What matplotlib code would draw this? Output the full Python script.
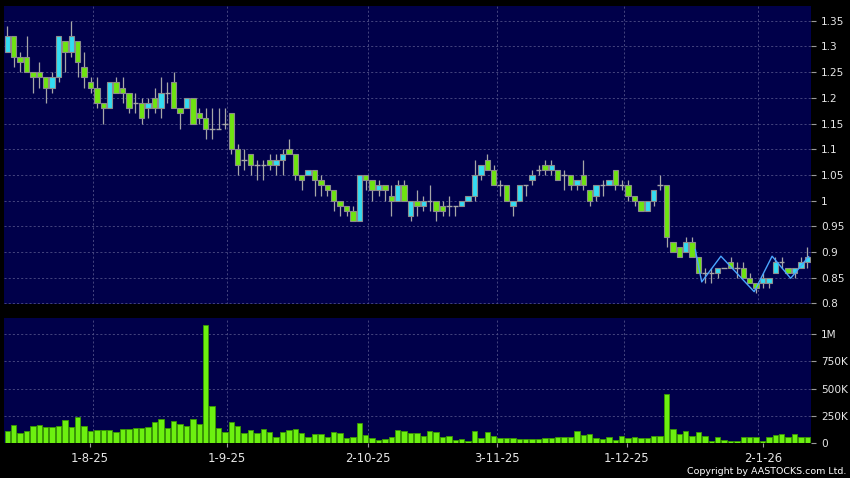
import matplotlib
matplotlib.use("Agg")
import matplotlib.pyplot as plt
import numpy as np

# ---------------- data ----------------
opens = [1.29, 1.32, 1.28, 1.28, 1.25, 1.25, 1.24, 1.22, 1.24, 1.31,
         1.29, 1.31, 1.26, 1.23, 1.22, 1.19, 1.18, 1.23, 1.22, 1.21,
         1.19, 1.19, 1.18, 1.20, 1.18, 1.21, 1.23, 1.18, 1.18, 1.20,
         1.17, 1.16, 1.14, 1.14, 1.15, 1.17, 1.10, 1.08, 1.09, 1.07,
         1.07, 1.08, 1.07, 1.08, 1.10, 1.09, 1.05, 1.05, 1.06, 1.04,
         1.03, 1.02, 1.00, 0.99, 0.98, 0.96, 1.05, 1.04, 1.02, 1.03,
         1.01, 1.00, 1.03, 0.97, 1.00, 0.99, 1.00, 1.00, 0.99, 0.99,
         0.99, 0.99, 1.00, 1.01, 1.05, 1.08, 1.06, 1.03, 1.03, 0.99,
         1.00, 1.03, 1.04, 1.06, 1.07, 1.06, 1.06, 1.05, 1.05, 1.03,
         1.05, 1.02, 1.01, 1.03, 1.03, 1.06, 1.03, 1.03, 1.01, 1.00,
         0.98, 1.00, 1.03, 1.03, 0.92, 0.91, 0.90, 0.92, 0.89, 0.86,
         0.86, 0.86, 0.87, 0.88, 0.87, 0.87, 0.85, 0.84, 0.84, 0.84,
         0.86, 0.88, 0.87, 0.86, 0.87, 0.88]
closes = [1.32, 1.28, 1.27, 1.25, 1.24, 1.24, 1.22, 1.24, 1.32, 1.29,
          1.32, 1.27, 1.24, 1.22, 1.19, 1.18, 1.23, 1.21, 1.21, 1.18,
          1.19, 1.16, 1.19, 1.18, 1.21, 1.21, 1.18, 1.17, 1.20, 1.15,
          1.16, 1.14, 1.14, 1.14, 1.15, 1.10, 1.07, 1.08, 1.07, 1.07,
          1.07, 1.07, 1.08, 1.09, 1.09, 1.05, 1.04, 1.06, 1.04, 1.03,
          1.02, 1.00, 0.99, 0.98, 0.96, 1.05, 1.04, 1.02, 1.03, 1.02,
          1.00, 1.03, 1.00, 1.00, 0.99, 1.00, 1.00, 0.98, 0.98, 0.99,
          0.99, 1.00, 1.01, 1.05, 1.07, 1.06, 1.03, 1.03, 1.00, 1.00,
          1.03, 1.03, 1.05, 1.06, 1.06, 1.07, 1.04, 1.05, 1.03, 1.04,
          1.03, 1.00, 1.03, 1.03, 1.04, 1.03, 1.03, 1.01, 1.00, 0.98,
          1.00, 1.02, 1.03, 0.93, 0.90, 0.89, 0.92, 0.89, 0.86, 0.86,
          0.86, 0.87, 0.87, 0.87, 0.87, 0.85, 0.84, 0.83, 0.85, 0.85,
          0.88, 0.88, 0.86, 0.87, 0.88, 0.89]
highs = [1.34, 1.32, 1.29, 1.32, 1.25, 1.27, 1.24, 1.25, 1.32, 1.31,
         1.35, 1.31, 1.29, 1.24, 1.24, 1.19, 1.23, 1.24, 1.24, 1.21,
         1.21, 1.20, 1.20, 1.22, 1.24, 1.23, 1.25, 1.18, 1.20, 1.20,
         1.18, 1.18, 1.18, 1.18, 1.18, 1.17, 1.11, 1.10, 1.09, 1.08,
         1.08, 1.09, 1.09, 1.10, 1.12, 1.09, 1.05, 1.06, 1.06, 1.05,
         1.03, 1.02, 1.00, 0.99, 0.99, 1.05, 1.05, 1.04, 1.04, 1.03,
         1.03, 1.04, 1.04, 1.00, 1.02, 1.01, 1.03, 1.00, 1.00, 1.01,
         0.99, 1.00, 1.01, 1.08, 1.07, 1.09, 1.07, 1.04, 1.03, 1.00,
         1.03, 1.03, 1.06, 1.07, 1.08, 1.08, 1.06, 1.06, 1.05, 1.04,
         1.08, 1.02, 1.03, 1.04, 1.04, 1.06, 1.04, 1.04, 1.01, 1.00,
         1.00, 1.02, 1.05, 1.03, 0.92, 0.91, 0.93, 0.93, 0.89, 0.87,
         0.87, 0.87, 0.87, 0.89, 0.88, 0.88, 0.86, 0.84, 0.86, 0.85,
         0.89, 0.89, 0.87, 0.87, 0.89, 0.91]
lows = [1.29, 1.26, 1.25, 1.25, 1.21, 1.22, 1.19, 1.21, 1.23, 1.25,
        1.28, 1.24, 1.22, 1.21, 1.18, 1.15, 1.18, 1.21, 1.19, 1.17,
        1.17, 1.15, 1.16, 1.17, 1.16, 1.19, 1.18, 1.14, 1.18, 1.15,
        1.15, 1.12, 1.12, 1.14, 1.14, 1.09, 1.05, 1.06, 1.05, 1.04,
        1.04, 1.06, 1.05, 1.05, 1.09, 1.04, 1.02, 1.05, 1.01, 1.01,
        1.01, 0.98, 0.97, 0.97, 0.96, 0.96, 1.02, 1.00, 1.01, 1.00,
        0.97, 1.00, 1.00, 0.96, 0.97, 0.98, 0.98, 0.96, 0.97, 0.97,
        0.97, 0.99, 1.00, 1.00, 1.04, 1.06, 1.03, 1.01, 1.00, 0.97,
        1.00, 1.01, 1.03, 1.05, 1.05, 1.05, 1.04, 1.02, 1.02, 1.02,
        1.02, 0.99, 1.00, 1.01, 1.03, 1.02, 1.02, 1.00, 0.99, 0.98,
        0.98, 0.99, 1.02, 0.91, 0.90, 0.89, 0.90, 0.89, 0.86, 0.84,
        0.84, 0.85, 0.87, 0.87, 0.85, 0.85, 0.84, 0.82, 0.83, 0.83,
        0.86, 0.87, 0.86, 0.85, 0.87, 0.87]
volumes_k = [113, 168, 98, 113, 159, 168, 152, 146, 162, 210,
             152, 238, 159, 113, 119, 122, 122, 107, 128, 128,
             137, 137, 152, 195, 223, 143, 207, 174, 159, 223,
             174, 1082, 341, 143, 104, 198, 159, 91, 119, 91,
             131, 101, 58, 107, 122, 128, 95, 58, 85, 85,
             58, 104, 95, 49, 61, 186, 76, 52, 30, 40,
             61, 119, 113, 98, 91, 70, 113, 107, 55, 70,
             30, 40, 21, 113, 49, 104, 67, 49, 52, 52,
             43, 40, 40, 37, 52, 49, 61, 61, 58, 116,
             79, 88, 49, 40, 55, 30, 70, 49, 58, 52,
             52, 64, 70, 448, 131, 85, 113, 70, 107, 67,
             24, 58, 30, 21, 21, 56, 56, 62, 19, 56,
             78, 84, 62, 81, 56, 62]

# thin light-blue swing line at the end of the chart
swing_pos = [107.5, 108.5, 111.5, 116.7, 119.5, 122.4, 125.2]
swing_val = [0.905, 0.842, 0.892, 0.823, 0.892, 0.849, 0.891]

date_labels = ["1-8-25", "1-9-25", "2-10-25", "3-11-25", "1-12-25", "2-1-26"]
date_tick_pos = [12.92, 34.28, 56.41, 76.56, 96.78, 118.03]
date_grid_pos = [13.44, 34.38, 56.41, 76.47, 96.41, 117.34]

price_ticks = [0.80, 0.85, 0.90, 0.95, 1.00, 1.05, 1.10, 1.15, 1.20, 1.25, 1.30, 1.35]
vol_ticks = [0, 250e3, 500e3, 750e3, 1e6]
vol_labels = ["0", "250K", "500K", "750K", "1M"]

# ---------------- styling ----------------
BG = "#00004a"
UP = "#33dcf2"
DOWN = "#6ee410"
EDGE = "#8c8c8c"
WICK = "#a6a6a6"
GRID = "#4e4e86"
TXT = "#e6e6e6"
VOL = "#6cf010"
VOL_EDGE = "#3a9a00"

plt.rcParams["font.family"] = ["DejaVu Sans"]

W, H = 850, 478
fig = plt.figure(figsize=(W / 100, H / 100), dpi=100, facecolor="black")
ax = fig.add_axes([4 / W, 1 - 303.5 / H, 806.5 / W, 297.5 / H])
axv = fig.add_axes([4 / W, 1 - 443.3 / H, 806.5 / W, 125 / H])

o = np.array(opens); c = np.array(closes)
h = np.array(highs); l = np.array(lows)
v = np.array(volumes_k) * 1000.0
x = np.arange(len(o))
xlim = (-0.52, 125.5)

for a in (ax, axv):
    a.set_facecolor(BG)
    for s in a.spines.values():
        s.set_visible(False)
    a.set_xlim(*xlim)
    for gp in date_grid_pos:
        a.axvline(gp, color=GRID, lw=0.6, ls=(0, (2.5, 2.5)), zorder=1)

# price panel
ax.set_ylim(0.80, 1.3786)
for pt in price_ticks:
    ax.axhline(pt, color=GRID, lw=0.6, ls=(0, (2.5, 2.5)), zorder=1)
ax.vlines(x, l, h, color=WICK, lw=0.9, zorder=2)
up = c > o
down = c < o
doji = c == o
width = 0.84
ax.bar(x[up], (c - o)[up], bottom=o[up], width=width, color=UP,
       edgecolor=EDGE, linewidth=0.8, zorder=3)
ax.bar(x[down], (o - c)[down], bottom=c[down], width=width, color=DOWN,
       edgecolor=EDGE, linewidth=0.8, zorder=3)
ax.hlines(c[doji], x[doji] - width / 2, x[doji] + width / 2, color=WICK,
          lw=1.0, zorder=3)
ax.plot(swing_pos, swing_val, color="#4aa6ff", lw=1.0, zorder=4)

ax.yaxis.tick_right()
ax.set_yticks(price_ticks)
ax.set_yticklabels(["%g" % t for t in price_ticks])
ax.tick_params(axis="y", length=3.5, width=0.8, color="#9a9a9a", pad=4,
               labelsize=7.6, labelcolor=TXT)
ax.set_xticks([])

# volume panel
axv.set_ylim(0, 1.1436e6)
for vt in vol_ticks[1:]:
    axv.axhline(vt, color=GRID, lw=0.6, ls=(0, (2.5, 2.5)), zorder=1)
axv.bar(x, v, width=width, color=VOL, edgecolor=VOL_EDGE, linewidth=0.6,
        zorder=3)
axv.yaxis.tick_right()
axv.set_yticks(vol_ticks)
axv.set_yticklabels(vol_labels)
axv.tick_params(axis="y", length=3.5, width=0.8, color="#9a9a9a", pad=4,
                labelsize=7.6, labelcolor=TXT)
axv.set_xticks(date_tick_pos)
axv.set_xticklabels(date_labels)
axv.tick_params(axis="x", length=3, width=0.8, color="#9a9a9a", pad=3.5,
                labelsize=8.4, labelcolor=TXT)

fig.text(846 / W, 1 - 471.5 / H, "Copyright by AASTOCKS.com Ltd.",
         ha="right", va="center", fontsize=6.8, color="white")

fig.savefig("out.png", dpi=100, facecolor="black")
